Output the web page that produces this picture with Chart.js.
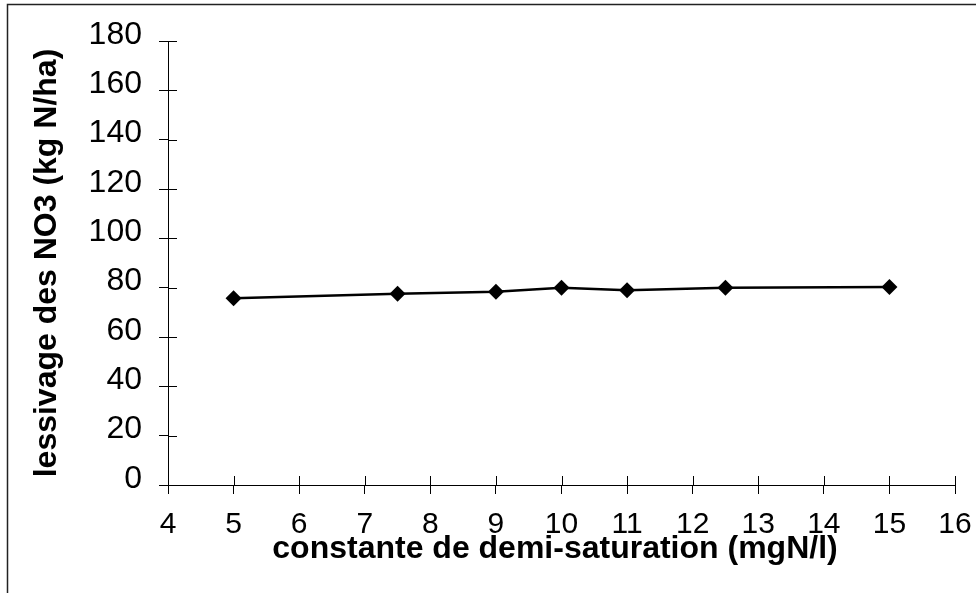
<!DOCTYPE html>
<html>
<head>
<meta charset="utf-8">
<script src="https://cdn.jsdelivr.net/npm/chart.js@4.4.1/dist/chart.umd.min.js"></script>
<style>
  html, body { margin: 0; padding: 0; background: #ffffff; }
  #wrap { width: 976px; height: 593px; position: relative; }
</style>
</head>
<body>
<div id="wrap"><canvas id="chart" width="976" height="593"></canvas></div>
<script>
// Half-saturation constant (mgN/l) and resulting NO3 leaching (kg N/ha)
const constanteMgN = [5, 7.5, 9, 10, 11, 12.5, 15];
const lessivageNO3 = [75.7, 77.5, 78.3, 80, 79, 80, 80.3];

// Axis ranges and steps
const xRange = [4, 16];
const xStep = 1;
const yRange = [0, 180];
const yStep = 20;

const yTitle = 'lessivage des NO3 (kg N/ha)';
const xTitle = 'constante de demi-saturation (mgN/l)';

const FONT = '"Liberation Sans", Arial, Helvetica, sans-serif';
const TICK_HALF = 9;

const points = constanteMgN.map((x, i) => ({ x: x, y: lessivageNO3[i] }));

// Draws the page frame, the inner half of the crossing tick marks and the axis titles
const axisDecor = {
  id: 'axisDecor',
  afterDraw(chart) {
    const ctx = chart.ctx;
    const xs = chart.scales.x;
    const ys = chart.scales.y;
    const area = chart.chartArea;
    ctx.save();

    // frame lines (left and top)
    ctx.strokeStyle = '#222222';
    ctx.lineWidth = 1.5;
    ctx.beginPath();
    ctx.moveTo(7.5, 593);
    ctx.lineTo(7.5, 4.5);
    ctx.lineTo(976, 4.5);
    ctx.stroke();

    // inner halves of ticks so they cross the axes
    ctx.strokeStyle = '#000000';
    ctx.lineWidth = 1;
    ctx.beginPath();
    ys.ticks.forEach(t => {
      const py = Math.round(ys.getPixelForValue(t.value)) + 0.5;
      ctx.moveTo(area.left, py);
      ctx.lineTo(area.left + TICK_HALF, py);
    });
    xs.ticks.forEach(t => {
      const px = Math.round(xs.getPixelForValue(t.value)) + 0.5;
      ctx.moveTo(px, area.bottom);
      ctx.lineTo(px, area.bottom - TICK_HALF);
    });
    ctx.stroke();

    // axis titles
    ctx.fillStyle = '#000000';
    ctx.font = 'bold 32px ' + FONT;
    ctx.textAlign = 'center';
    ctx.textBaseline = 'alphabetic';
    ctx.fillText(xTitle, 555, 558);

    ctx.translate(56, (area.top + area.bottom) / 2);
    ctx.rotate(-Math.PI / 2);
    ctx.fillText(yTitle, 0, 0);
    ctx.restore();
  }
};

new Chart(document.getElementById('chart'), {
  type: 'scatter',
  data: {
    datasets: [{
      data: points,
      showLine: true,
      borderColor: '#000000',
      borderWidth: 2.5,
      backgroundColor: '#000000',
      pointStyle: 'rectRot',
      pointRadius: 8,
      pointHoverRadius: 8,
      pointBorderWidth: 0,
      tension: 0
    }]
  },
  options: {
    responsive: false,
    animation: false,
    layout: { padding: { left: 0, top: 41, right: 0, bottom: 0 } },
    plugins: {
      legend: { display: false },
      tooltip: { enabled: false },
      title: { display: false }
    },
    scales: {
      x: {
        type: 'linear',
        min: xRange[0],
        max: xRange[1],
        afterFit(scale) { scale.height = 108; scale.paddingRight = 21; },
        border: { display: true, color: '#000000', width: 1 },
        grid: { display: true, drawOnChartArea: false, drawTicks: true, tickLength: TICK_HALF, color: '#000000' },
        ticks: {
          stepSize: xStep,
          color: '#000000',
          padding: 13,
          maxRotation: 0,
          autoSkip: false,
          font: { family: FONT, size: 30 }
        }
      },
      y: {
        type: 'linear',
        min: yRange[0],
        max: yRange[1],
        afterFit(scale) { scale.width = 168; },
        border: { display: true, color: '#000000', width: 1 },
        grid: { display: true, drawOnChartArea: false, drawTicks: true, tickLength: TICK_HALF, color: '#000000' },
        ticks: {
          stepSize: yStep,
          color: '#000000',
          padding: 17,
          labelOffset: -6,
          autoSkip: false,
          font: { family: FONT, size: 32 }
        }
      }
    }
  },
  plugins: [axisDecor]
});
</script>
</body>
</html>
